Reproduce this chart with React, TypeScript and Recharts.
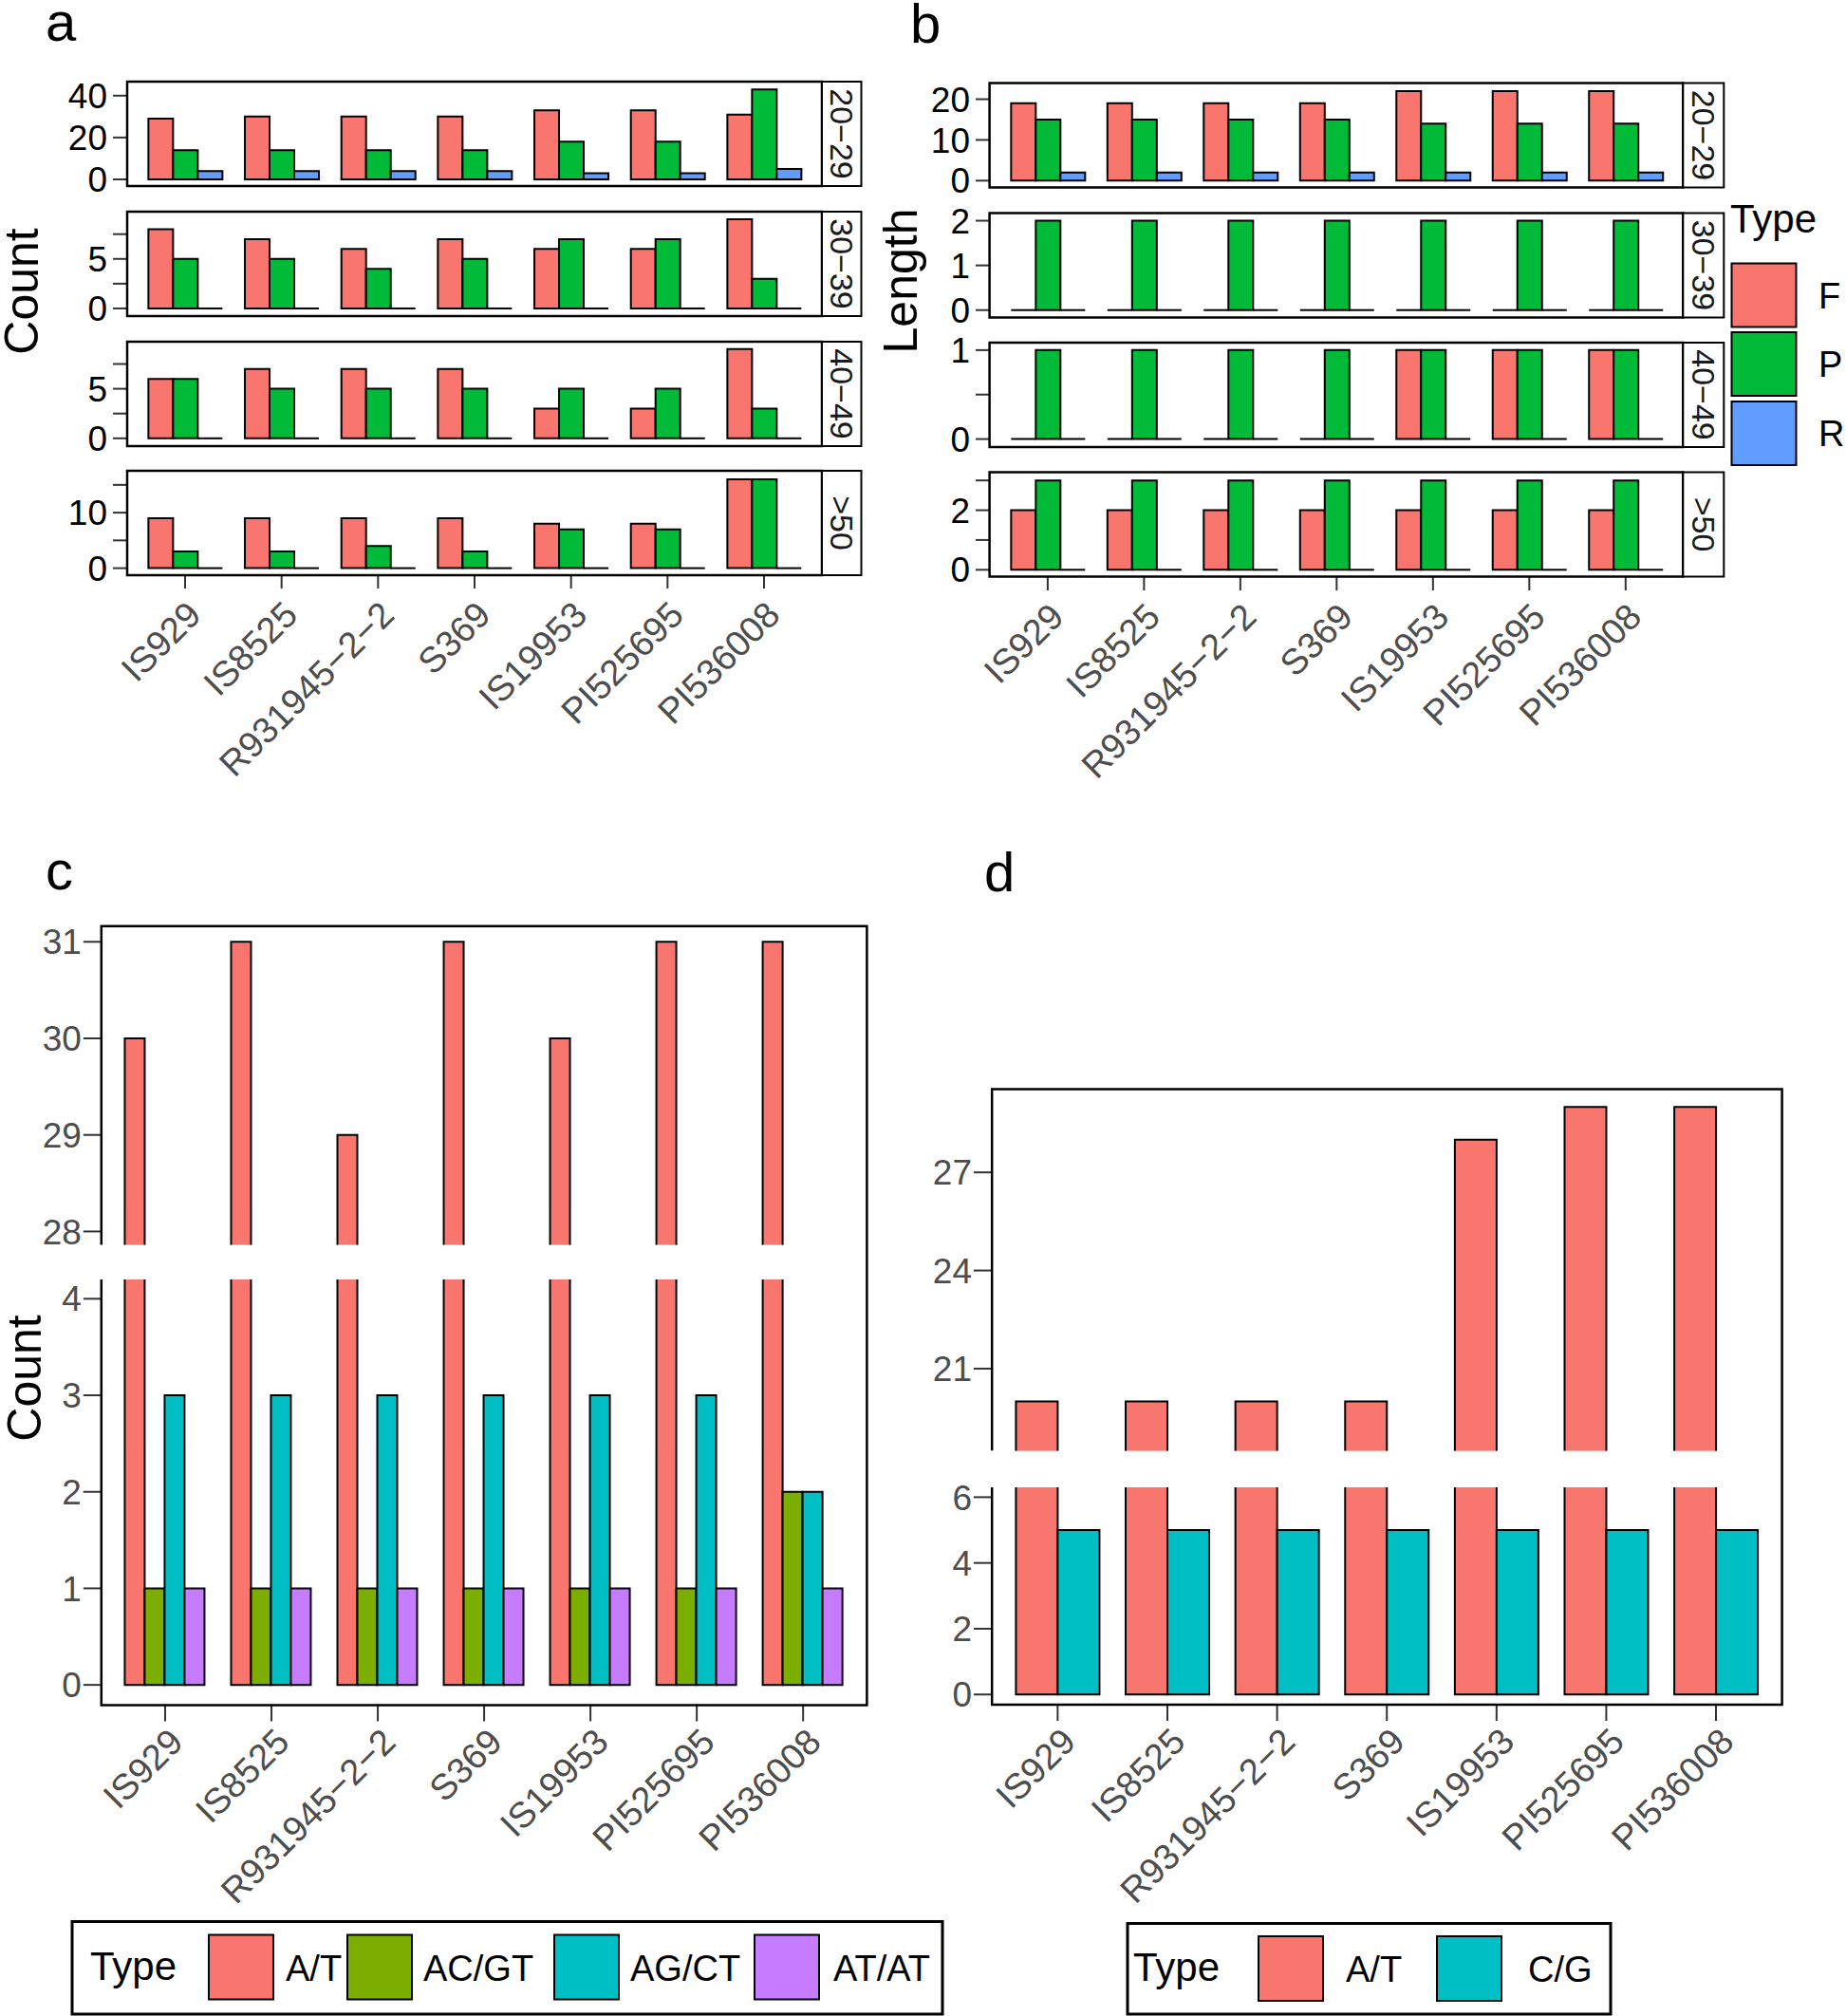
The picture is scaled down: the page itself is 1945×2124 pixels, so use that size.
import React from 'react';
import { BarChart, Bar, XAxis, YAxis } from 'recharts';

const FONT = '"Liberation Sans", Arial, Helvetica, sans-serif';

const genotypes = ['IS929', 'IS8525', 'R931945−2−2', 'S369', 'IS19953', 'PI525695', 'PI536008'];

// a: count per length class, types F / P / R
const lengthClasses = ['20−29', '30−39', '40−49', '>50'];
const countF = [
  [29, 30, 30, 30, 33, 33, 31],
  [8, 7, 6, 7, 6, 6, 9],
  [6, 7, 7, 7, 3, 3, 9],
  [9, 9, 9, 9, 8, 8, 16],
];
const countP = [
  [14, 14, 14, 14, 18, 18, 43],
  [5, 5, 4, 5, 7, 7, 3],
  [6, 5, 5, 5, 5, 5, 3],
  [3, 3, 4, 3, 7, 7, 16],
];
const countR = [
  [4, 4, 4, 4, 3, 3, 5],
  [0, 0, 0, 0, 0, 0, 0],
  [0, 0, 0, 0, 0, 0, 0],
  [0, 0, 0, 0, 0, 0, 0],
];

// b: length per length class
const lengthF = [
  [19, 19, 19, 19, 22, 22, 22],
  [0, 0, 0, 0, 0, 0, 0],
  [0, 0, 0, 0, 1, 1, 1],
  [2, 2, 2, 2, 2, 2, 2],
];
const lengthP = [
  [15, 15, 15, 15, 14, 14, 14],
  [2, 2, 2, 2, 2, 2, 2],
  [1, 1, 1, 1, 1, 1, 1],
  [3, 3, 3, 3, 3, 3, 3],
];
const lengthR = [
  [2, 2, 2, 2, 2, 2, 2],
  [0, 0, 0, 0, 0, 0, 0],
  [0, 0, 0, 0, 0, 0, 0],
  [0, 0, 0, 0, 0, 0, 0],
];

// c: motif types
const motifNames = ['A/T', 'AC/GT', 'AG/CT', 'AT/AT'];
const motifAT = [30, 31, 29, 31, 30, 31, 31];
const motifACGT = [1, 1, 1, 1, 1, 1, 2];
const motifAGCT = [3, 3, 3, 3, 3, 3, 2];
const motifATAT = [1, 1, 1, 1, 1, 1, 1];

// d: base types
const baseNames = ['A/T', 'C/G'];
const baseAT = [20, 20, 20, 20, 28, 29, 29];
const baseCG = [5, 5, 5, 5, 5, 5, 5];

// ticks
const countTicks = [[0, 20, 40], [0, 2.5, 5, 7.5], [0, 2.5, 5, 7.5], [0, 5, 10, 15]];
const countTickLabels = [[0, 20, 40], [0, 5], [0, 5], [0, 10]];
const lengthTicks = [[0, 10, 20], [0, 1, 2], [0, 0.5, 1], [0, 1, 2, 3]];
const lengthTickLabels = [[0, 10, 20], [0, 1, 2], [0, 1], [0, 2]];
const motifTicksHigh = [28, 29, 30, 31];
const motifTicksLow = [0, 1, 2, 3, 4];
const baseTicksHigh = [21, 24, 27];
const baseTicksLow = [0, 2, 4, 6];

const typeColors = ['#F8766D', '#00BA38', '#619CFF'];
const motifColors = ['#F8766D', '#7CAE00', '#00BFC4', '#C77CFF'];
const baseColors = ['#F8766D', '#00BFC4'];

// layout
const A = {
  plotX: 134, plotW: 732, plotH: 110, stripW: 41.5,
  tops: [86, 223, 360, 496],
  domains: [[-3.17, 46.7], [-0.77, 9.77], [-0.785, 9.75], [-1.265, 17.54]] as [number, number][],
};
const B = {
  plotX: 1042.6, plotW: 730.7, plotH: 110, stripW: 43,
  tops: [87.5, 224.5, 361, 497.5],
  domains: [[-1.79, 23.85], [-0.176, 2.16], [-0.09, 1.084], [-0.245, 3.26]] as [number, number][],
};
const C = {
  plotX: 106.8, plotW: 806.6, hiTop: 975.8, hiH: 335.7, loTop: 1347.9, loH: 448.5,
  hiDomain: [27.86, 31.16] as [number, number], loDomain: [-0.21, 4.2] as [number, number],
};
const D = {
  plotX: 1045.2, plotW: 832.4, hiTop: 1147.5, hiH: 380.8, loTop: 1567, loH: 229,
  hiDomain: [18.48, 29.53] as [number, number], loDomain: [-0.31, 6.3] as [number, number],
};

const barShape = (openBottom: boolean) => (props: any) => {
  const { x, y, width, height, fill, background } = props;
  if (x == null || y == null || width == null) return <g />;
  let y0 = Math.min(y, y + (height || 0));
  let y1 = Math.max(y, y + (height || 0));
  let cutTop = false;
  let cutBottom = openBottom;
  let clamped = false;
  if (background && background.height) {
    const bTop = background.y;
    const bBot = background.y + background.height;
    if (y0 < bTop) { y0 = bTop; cutTop = true; clamped = true; }
    if (y1 > bBot) { y1 = bBot; cutBottom = true; clamped = true; }
  }
  if (y1 - y0 < 0.5) {
    if (clamped) return <g />;
    return <line x1={x} x2={x + width} y1={y1} y2={y1} stroke="#000" strokeWidth={2} />;
  }
  const d = [`M${x},${y0}L${x},${y1}`, `M${x + width},${y0}L${x + width},${y1}`];
  if (!cutTop) d.push(`M${x - 1},${y0}L${x + width + 1},${y0}`);
  if (!cutBottom) d.push(`M${x - 1},${y1}L${x + width + 1},${y1}`);
  return (
    <g>
      <rect x={x} y={y0} width={width} height={y1 - y0} fill={fill} />
      <path d={d.join('')} stroke="#000" strokeWidth={2} fill="none" />
    </g>
  );
};

function XLabel(props: any) {
  const { x, y, payload, dx0, dy0 } = props;
  const ax = x + dx0;
  const ay = y + dy0;
  return (
    <text x={ax} y={ay} transform={`rotate(-45 ${ax} ${ay})`} textAnchor="end"
      fontSize={38} fill="#4d4d4d" fontFamily={FONT}>
      {payload.value}
    </text>
  );
}

type Series = { key: string; color: string };

type FacetProps = {
  left: number; top: number; plotW: number; plotH: number; yAxisW: number;
  data: any[]; series: Series[]; domain: [number, number];
  ticks: number[]; tickLabels?: number[];
  showX?: boolean; openBottom?: boolean;
  yFont: number; yFill: string; yTickSize: number; yTickMargin: number;
  xTickSize: number; xLabelDx: number; xLabelDy: number;
};

function Facet(p: FacetProps) {
  const xAxisH = 230;
  const m = 24;
  const step = p.plotW / 7.2;
  const pad = step * 0.1;
  const labels = p.tickLabels ?? p.ticks;
  const bottom = p.showX ? 0 : m;
  return (
    <div style={{ position: 'absolute', left: p.left - p.yAxisW, top: p.top - m }}>
      <BarChart width={p.yAxisW + p.plotW} height={p.plotH + m + (p.showX ? xAxisH : m)} data={p.data}
        margin={{ top: m, right: 0, bottom, left: 0 }} barCategoryGap="12%" barGap={0}>
        <XAxis dataKey="name" type="category" hide={!p.showX} height={xAxisH} interval={0}
          padding={{ left: pad, right: pad }} axisLine={false}
          tickLine={{ stroke: '#333333', strokeWidth: 2 }} tickSize={p.xTickSize}
          tick={(t: any) => <XLabel {...t} dx0={p.xLabelDx} dy0={p.xLabelDy} />} />
        <YAxis type="number" domain={p.domain} allowDataOverflow ticks={p.ticks} interval={0}
          width={p.yAxisW} axisLine={false} tickLine={{ stroke: '#333333', strokeWidth: 2 }}
          tickSize={p.yTickSize} tickMargin={p.yTickMargin}
          tick={{ fontSize: p.yFont, fill: p.yFill, fontFamily: FONT }}
          tickFormatter={(v: number) => (labels.includes(v) ? String(v) : '')} />
        {p.series.map((s) => (
          <Bar key={s.key} dataKey={s.key} fill={s.color} isAnimationActive={false}
            shape={barShape(!!p.openBottom)} />
        ))}
      </BarChart>
    </div>
  );
}

const typeSeries: Series[] = ['F', 'P', 'R'].map((k, i) => ({ key: k, color: typeColors[i] }));
const motifSeries: Series[] = ['AT', 'ACGT', 'AGCT', 'ATAT'].map((k, i) => ({ key: k, color: motifColors[i] }));
const baseSeries: Series[] = ['AT', 'CG'].map((k, i) => ({ key: k, color: baseColors[i] }));

const facetRows = (f: number[][], p: number[][], r: number[][], i: number) =>
  genotypes.map((name, j) => ({ name, F: f[i][j], P: p[i][j], R: r[i][j] }));

const motifRows = genotypes.map((name, j) => ({
  name, AT: motifAT[j], ACGT: motifACGT[j], AGCT: motifAGCT[j], ATAT: motifATAT[j],
}));
const baseRows = genotypes.map((name, j) => ({ name, AT: baseAT[j], CG: baseCG[j] }));

export default function App() {
  const abCommon = { yFont: 37, yFill: '#000000', yTickSize: 15, yTickMargin: 6, xTickSize: 14, xLabelDx: 19, xLabelDy: 28 };
  const cdCommon = { yFont: 37, yFill: '#4d4d4d', yTickSize: 19, yTickMargin: 2, xTickSize: 17, xLabelDx: 21, xLabelDy: 22 };
  return (
    <div style={{ position: 'absolute', left: 0, top: 0, width: 1945, height: 2124, background: '#fff', overflow: 'hidden', fontFamily: FONT }}>
      {lengthClasses.map((_, i) => (
        <Facet key={`a${i}`} left={A.plotX} top={A.tops[i]} plotW={A.plotW} plotH={A.plotH} yAxisW={A.plotX}
          data={facetRows(countF, countP, countR, i)} series={typeSeries} domain={A.domains[i]}
          ticks={countTicks[i]} tickLabels={countTickLabels[i]} showX={i === 3} {...abCommon} />
      ))}
      {lengthClasses.map((_, i) => (
        <Facet key={`b${i}`} left={B.plotX} top={B.tops[i]} plotW={B.plotW} plotH={B.plotH} yAxisW={110}
          data={facetRows(lengthF, lengthP, lengthR, i)} series={typeSeries} domain={B.domains[i]}
          ticks={lengthTicks[i]} tickLabels={lengthTickLabels[i]} showX={i === 3} {...abCommon} />
      ))}
      <Facet left={C.plotX} top={C.hiTop} plotW={C.plotW} plotH={C.hiH} yAxisW={C.plotX}
        data={motifRows} series={motifSeries} domain={C.hiDomain} ticks={motifTicksHigh} openBottom {...cdCommon} />
      <Facet left={C.plotX} top={C.loTop} plotW={C.plotW} plotH={C.loH} yAxisW={C.plotX}
        data={motifRows} series={motifSeries} domain={C.loDomain} ticks={motifTicksLow} showX {...cdCommon} />
      <Facet left={D.plotX} top={D.hiTop} plotW={D.plotW} plotH={D.hiH} yAxisW={110}
        data={baseRows} series={baseSeries} domain={D.hiDomain} ticks={baseTicksHigh} openBottom {...cdCommon} />
      <Facet left={D.plotX} top={D.loTop} plotW={D.plotW} plotH={D.loH} yAxisW={110}
        data={baseRows} series={baseSeries} domain={D.loDomain} ticks={baseTicksLow} showX {...cdCommon} />

      <svg width={1945} height={2124} style={{ position: 'absolute', left: 0, top: 0, pointerEvents: 'none' }} fontFamily={FONT}>
        {/* panel letters */}
        <text x={48} y={43} fontSize={58}>a</text>
        <text x={959} y={45} fontSize={58}>b</text>
        <text x={48} y={937} fontSize={58}>c</text>
        <text x={1037} y={939} fontSize={58}>d</text>

        {/* axis titles */}
        <text transform="translate(40,307) rotate(-90)" textAnchor="middle" fontSize={50}>Count</text>
        <text transform="translate(966,296) rotate(-90)" textAnchor="middle" fontSize={50}>Length</text>
        <text transform="translate(43,1452) rotate(-90)" textAnchor="middle" fontSize={50}>Count</text>

        {/* facet frames and strips */}
        {[A, B].map((P, k) =>
          P.tops.map((t, i) => {
            const sx = P.plotX + P.plotW;
            const cx = sx + P.stripW / 2 - 12;
            const cy = t + P.plotH / 2;
            return (
              <g key={`f${k}${i}`}>
                <rect x={P.plotX} y={t} width={P.plotW} height={P.plotH} fill="none" stroke="#000" strokeWidth={2.5} />
                <rect x={sx} y={t} width={P.stripW} height={P.plotH} fill="#fff" stroke="#000" strokeWidth={2} />
                <text x={cx} y={cy} transform={`rotate(90 ${cx} ${cy})`} textAnchor="middle" fontSize={34} fill="#1a1a1a">
                  {lengthClasses[i]}
                </text>
              </g>
            );
          })
        )}

        {/* broken-axis frames for c and d */}
        {[C, D].map((P, k) => {
          const r = P.plotX + P.plotW;
          const hb = P.hiTop + P.hiH;
          const lb = P.loTop + P.loH;
          return (
            <g key={`bf${k}`} stroke="#000" strokeWidth={2.5} fill="none">
              <path d={`M${P.plotX},${hb}L${P.plotX},${P.hiTop}L${r},${P.hiTop}L${r},${lb}L${P.plotX},${lb}L${P.plotX},${P.loTop}`} />
            </g>
          );
        })}

        {/* legend b */}
        <text x={1823} y={245} fontSize={42}>Type</text>
        {['F', 'P', 'R'].map((lab, i) => {
          const y = [277.5, 350, 423][i];
          return (
            <g key={lab}>
              <rect x={1824.5} y={y} width={68} height={67} fill={typeColors[i]} stroke="#000" strokeWidth={2} />
              <text x={1916} y={y + 33.5 + 13.5} fontSize={38}>{lab}</text>
            </g>
          );
        })}

        {/* legend c */}
        <rect x={76} y={2024.5} width={917} height={97.5} fill="none" stroke="#000" strokeWidth={3} />
        <text x={95} y={2086} fontSize={42}>Type</text>
        {motifNames.map((lab, i) => {
          const kx = [220, 366, 584, 795][i];
          const lx = [301, 446, 664, 878][i];
          return (
            <g key={lab}>
              <rect x={kx} y={2038.5} width={68} height={68} fill={motifColors[i]} stroke="#000" strokeWidth={2} />
              <text x={lx} y={2087} fontSize={38}>{lab}</text>
            </g>
          );
        })}

        {/* legend d */}
        <rect x={1188} y={2026.5} width={509} height={95.5} fill="none" stroke="#000" strokeWidth={3} />
        <text x={1194} y={2087} fontSize={42}>Type</text>
        {baseNames.map((lab, i) => {
          const kx = [1326, 1514][i];
          const lx = [1418, 1610][i];
          return (
            <g key={lab}>
              <rect x={kx} y={2040} width={68} height={68} fill={baseColors[i]} stroke="#000" strokeWidth={2} />
              <text x={lx} y={2088} fontSize={38}>{lab}</text>
            </g>
          );
        })}
      </svg>
    </div>
  );
}
